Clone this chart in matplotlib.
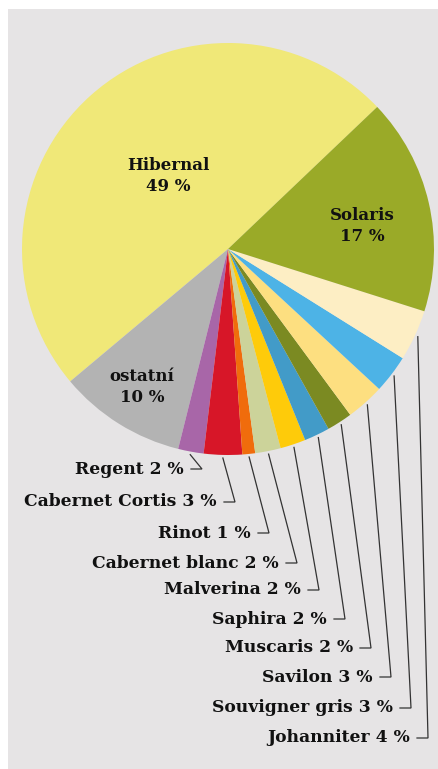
import numpy as np
import matplotlib
matplotlib.use("Agg")
import matplotlib.pyplot as plt
from matplotlib.patches import Rectangle

# data (share in %), in drawing order counter-clockwise from Hibernal
odrudy = ["Hibernal", "ostatní", "Regent", "Cabernet Cortis", "Rinot",
          "Cabernet blanc", "Malverina", "Saphira", "Muscaris", "Savilon",
          "Souvigner gris", "Johanniter", "Solaris"]
podil = [49, 10, 2, 3, 1, 2, 2, 2, 2, 3, 3, 4, 17]
barvy = ["#f0e878", "#b3b3b3", "#a866a8", "#d71628", "#f06c0c",
         "#ccd39a", "#fecb0a", "#429bc8", "#7b8a22", "#fddf80",
         "#4db3e6", "#fdeec4", "#9aaa28"]

W, H = 439, 769
CX, CY, R = 228, 249, 206   # pie centre / radius in pixels


def px(x, y):
    # pixel position -> data coordinates (1 unit = pie radius)
    return (x - CX) / R, (CY - y) / R


fig = plt.figure(figsize=(W / 100, H / 100), dpi=100)
fig.patch.set_facecolor("white")
fig.patches.append(Rectangle((8 / W, 0), 1, (H - 9) / H, transform=fig.transFigure,
                             facecolor="#e6e4e5", edgecolor="none", zorder=-10))

ax = fig.add_axes([0, 0, 1, 1])
ax.set_facecolor("none")
start = 43.6
wedges, _ = ax.pie(podil, colors=barvy, startangle=start, counterclock=True,
                   radius=1, wedgeprops=dict(linewidth=0))
x0, y0 = px(0, 0)
x1, y1 = px(W, H)
ax.set_xlim(x0, x1)
ax.set_ylim(y1, y0)
ax.set_aspect("auto")
ax.axis("off")

font = dict(family="DejaVu Serif", fontweight="bold", color="#111111")

# labels inside the big slices
inside = {"Hibernal": (168, 176), "Solaris": (362, 226), "ostatní": (142, 387)}
for name, (lx, ly) in inside.items():
    i = odrudy.index(name)
    tx, ty = px(lx, ly)
    ax.text(tx, ty, f"{name}\n{podil[i]} %", ha="center", va="center",
            fontsize=12, linespacing=1.35, **font)

# outside labels: corner of the leader line (pixels)
outside = ["Regent", "Cabernet Cortis", "Rinot", "Cabernet blanc", "Malverina",
           "Saphira", "Muscaris", "Savilon", "Souvigner gris", "Johanniter"]
corner_x = [202, 235, 269, 297, 319, 345, 371, 391, 411, 428]
label_y = [469, 502, 533, 563, 590, 619, 648, 677, 708, 738]

for name, cx, ly in zip(outside, corner_x, label_y):
    w = wedges[odrudy.index(name)]
    mid = np.deg2rad((w.theta1 + w.theta2) / 2)
    ex, ey = 1.015 * np.cos(mid), 1.015 * np.sin(mid)
    kx, ky = px(cx, ly)
    hx, _ = px(cx - 11, ly)
    ax.plot([ex, kx, hx], [ey, ky, ky], color="#333333", lw=0.9,
            solid_joinstyle="miter")
    tx, _ = px(cx - 18, ly)
    ax.text(tx, ky, f"{name} {podil[odrudy.index(name)]} %", ha="right",
            va="center", fontsize=12.3, **font)

fig.savefig("out.png", dpi=100, facecolor=fig.get_facecolor())
